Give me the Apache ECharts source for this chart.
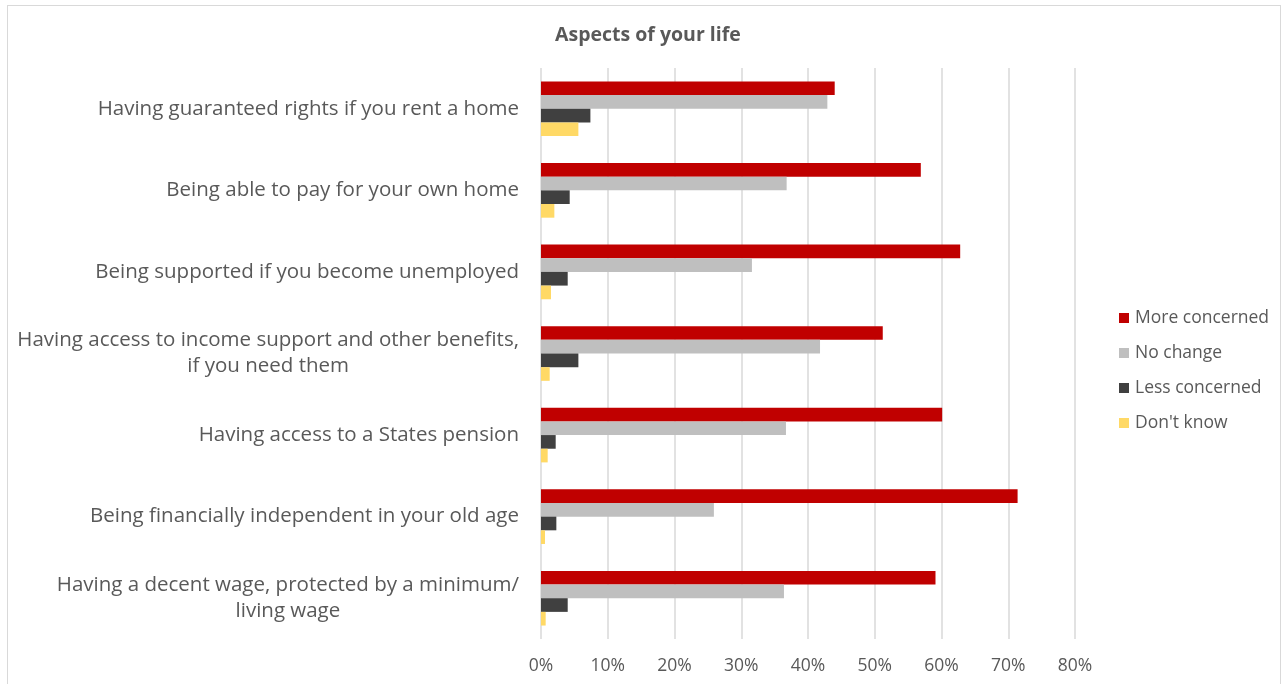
<!DOCTYPE html>
<html>
<head>
<meta charset="utf-8">
<script src="https://cdn.jsdelivr.net/npm/echarts@6/dist/echarts.min.js"></script>
<style>
html,body{margin:0;padding:0;background:#fff;}
#frame{position:absolute;left:7px;top:5px;width:1274px;height:700px;border:1px solid #d9d9d9;box-sizing:border-box;}
#chart{position:absolute;left:0;top:0;width:1283px;height:684px;}
</style>
</head>
<body>
<div id="frame"></div>
<div id="chart"></div>
<script>
const categories = [
  "Having guaranteed rights if you rent a home",
  "Being able to pay for your own home",
  "Being supported if you become unemployed",
  "Having access to income support and other benefits,\nif you need them",
  "Having access to a States pension",
  "Being financially independent in your old age",
  "Having a decent wage, protected by a minimum/\nliving wage"
];
const seriesNames = ["More concerned", "No change", "Less concerned", "Don't know"];
const moreConcerned = [44.0, 56.9, 62.8, 51.2, 60.1, 71.4, 59.1];
const noChange      = [42.9, 36.8, 31.6, 41.8, 36.7, 25.9, 36.4];
const lessConcerned = [7.4, 4.3, 4.0, 5.6, 2.2, 2.3, 4.0];
const dontKnow      = [5.6, 2.0, 1.5, 1.3, 1.0, 0.6, 0.7];
const tickLabels = ["0%", "10%", "20%", "30%", "40%", "50%", "60%", "70%", "80%"];

const colors = ["#C00000", "#BFBFBF", "#404040", "#FFD966"];
const values = [moreConcerned, noChange, lessConcerned, dontKnow];
const FONT = "Open Sans";

const chart = echarts.init(document.getElementById('chart'), null, {renderer: 'canvas'});
chart.setOption({
  animation: false,
  textStyle: {fontFamily: FONT},
  title: {
    text: "Aspects of your life",
    left: 550, top: 20,
    textStyle: {fontFamily: FONT, fontSize: 19.5, fontWeight: 'bold', color: '#595959'}
  },
  legend: {
    orient: 'vertical',
    left: 1114, top: 301,
    itemWidth: 10, itemHeight: 10, itemGap: 11,
    icon: 'rect',
    data: seriesNames,
    textStyle: {fontFamily: FONT, fontSize: 17.5, color: '#595959', padding: [0, 0, 0, 1], lineHeight: 24}
  },
  grid: {left: 541, right: 208, top: 68, bottom: 45, containLabel: false},
  xAxis: {
    type: 'value', min: 0, max: 80, interval: 10,
    axisLine: {show: false}, axisTick: {show: false},
    splitLine: {show: true, lineStyle: {color: '#d9d9d9', width: 1.5}},
    axisLabel: {
      margin: 18, fontSize: 17.5, color: '#595959', fontFamily: FONT,
      formatter: function (v) { return tickLabels[Math.round(v / 10)]; }
    }
  },
  yAxis: {
    type: 'category', inverse: true, data: categories,
    axisLine: {show: false}, axisTick: {show: false},
    axisLabel: {
      margin: 22, fontSize: 20.5, color: '#595959', fontFamily: FONT, lineHeight: 26,
      formatter: function (v) {
        return v.split('\n').map(function (s) { return '{c|' + s + '}'; }).join('\n');
      },
      rich: {c: {align: 'center', fontSize: 20.5, color: '#595959', fontFamily: FONT, lineHeight: 26}}
    }
  },
  series: seriesNames.map(function (name, i) {
    return {
      name: name, type: 'bar', data: values[i],
      barGap: '0%', barCategoryGap: '33%',
      itemStyle: {color: colors[i]}
    };
  })
});
</script>
</body>
</html>
